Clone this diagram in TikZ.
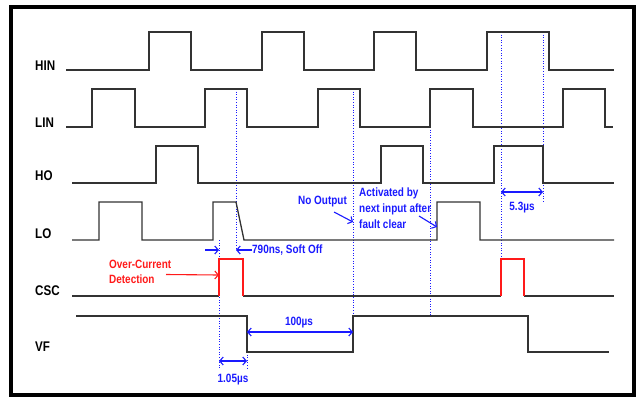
\documentclass[tikz,border=0pt]{standalone}
\usepackage{fontspec}
\setmainfont{Liberation Sans}
\usetikzlibrary{arrows.meta}
\definecolor{sig}{HTML}{333333}
\definecolor{ablue}{HTML}{1A1AFF}
\definecolor{ared}{HTML}{FF1A1A}
\newcommand{\nar}[1]{\scalebox{0.83}[1]{#1}}
\tikzset{
  wave/.style={draw=sig, line width=1.3pt, line join=miter},
  redwave/.style={draw=ared, line width=1.3pt},
  guide/.style={draw=ablue, line width=0.6pt, dotted},
  dim/.style={draw=ablue, line width=1.1pt, {Straight Barb[length=3.5pt,width=8pt]}-{Straight Barb[length=3.5pt,width=8pt]}},
  ptr/.style={draw=ablue, line width=1.1pt, -{Straight Barb[length=3.5pt,width=8pt]}},
  rptr/.style={draw=ared, line width=1.1pt, -{Straight Barb[length=3.5pt,width=8pt]}},
  siglabel/.style={anchor=west, inner sep=0pt, font=\bfseries\fontsize{14}{14}\selectfont},
  note/.style={inner sep=0pt, text=ablue, font=\bfseries\fontsize{12}{16}\selectfont, align=left},
  rnote/.style={inner sep=0pt, text=ared, font=\bfseries\fontsize{12}{15}\selectfont, align=left},
}
\begin{document}
\begin{tikzpicture}[x=1pt,y=-1pt]
\useasboundingbox (0,0) rectangle (636,397);
\fill[white] (0,0) rectangle (636,397);
\draw[line width=4.5pt] (11,7) rectangle (634,395);

% labels
\node[siglabel] (lHIN) at (35,66) {\nar{HIN}};
\node[siglabel] (lLIN) at (35,123) {\nar{LIN}};
\node[siglabel] (lHO) at (35,176) {\nar{HO}};
\node[siglabel] (lLO) at (35,234) {\nar{LO}};
\node[siglabel] (lCSC) at (35,291) {\nar{CSC}};
\node[siglabel] (lVF) at (35,347) {\nar{VF}};

% guides (drawn first)
\coordinate (g1t) at (236,89);  \coordinate (g1b) at (236,248);
\coordinate (g2t) at (219,240); \coordinate (g2b) at (219,368);
\coordinate (g3t) at (247,352); \coordinate (g3b) at (247,368);
\coordinate (g4t) at (353,89);  \coordinate (g4b) at (353,316);
\coordinate (g5t) at (430,127); \coordinate (g5b) at (430,316);
\coordinate (g6t) at (501,32);  \coordinate (g6b) at (501,259);
\coordinate (g7t) at (543,32);  \coordinate (g7b) at (543,203);
\foreach \i in {1,...,7} \draw[guide] (g\i t) -- (g\i b);

% HIN
\draw[wave] (66,70) -- (149,70) -- (149,32) -- (191,32) -- (191,70) -- (262,70) -- (262,32) -- (304,32) -- (304,70)
  -- (374,70) -- (374,32) -- (416,32) -- (416,70) -- (487,70) -- (487,32) -- (549,32) -- (549,70) -- (614,70);
% LIN
\draw[wave] (66,127) -- (92,127) -- (92,89) -- (135,89) -- (135,127) -- (205,127) -- (205,89) -- (247,89) -- (247,127)
  -- (318,127) -- (318,89) -- (360,89) -- (360,127) -- (430,127) -- (430,89) -- (473,89) -- (473,127)
  -- (563,127) -- (563,89) -- (605,89) -- (605,127) -- (613,127);
% HO
\draw[wave] (72,183) -- (156,183) -- (156,146) -- (198,146) -- (198,183) -- (381,183) -- (381,146) -- (423,146) -- (423,183)
  -- (494,183) -- (494,146) -- (543,146) -- (543,183) -- (614,183);
% LO
\draw[wave] (72,240) -- (99,240) -- (99,202) -- (142,202) -- (142,240) -- (213,240) -- (213,202) -- (236,202) -- (244,240)
  -- (437,240) -- (437,202) -- (480,202) -- (480,240) -- (614,240);
% CSC
\draw[wave] (72,296) -- (219,296);
\draw[wave] (243,296) -- (501,296);
\draw[wave] (524,296) -- (614,296);
\draw[redwave] (219,296) -- (219,259) -- (243,259) -- (243,296);
\draw[redwave] (501,296) -- (501,259) -- (524,259) -- (524,296);
% VF
\draw[wave] (76,316) -- (247,316) -- (247,352) -- (353,352) -- (353,316) -- (528,316) -- (528,352) -- (609,352);

% annotations
\coordinate (a53l) at (501,192); \coordinate (a53r) at (543,192);
\draw[dim] (a53l) -- (a53r);
\node[note] (t53) at (522,208) {\nar{5.3\textmu s}};

\coordinate (a790s) at (205,250); \coordinate (a790t) at (219,250);
\draw[ptr] (a790s) -- (a790t);
\node[note, anchor=west] (t790) at (252,250) {\nar{790ns, Soft Off}};
\coordinate (a790u) at (236,250);
\draw[ptr] (t790.west) -- (a790u);

\node[rnote, anchor=west] (toc) at (109,272) {\nar{Over-Current}\\\nar{Detection}};
\coordinate (aoc) at (219,275);
\draw[rptr] (166,274.5) -- (aoc);

\coordinate (a100l) at (247,332); \coordinate (a100r) at (353,332);
\draw[dim] (a100l) -- (a100r);
\node[note] (t100) at (299,323) {\nar{100\textmu s}};

\coordinate (a105l) at (219,361); \coordinate (a105r) at (247,361);
\draw[dim] (a105l) -- (a105r);
\node[note] (t105) at (233,380) {\nar{1.05\textmu s}};

\node[note, anchor=west] (tno) at (298,202) {\nar{No Output}};
\coordinate (ano) at (353,222);
\draw[ptr] (334,212) -- (ano);

\node[note, anchor=west] (tact) at (359,208) {\nar{Activated by}\\\nar{next input after}\\\nar{fault clear}};
\coordinate (aact) at (437,227);
\draw[ptr] (419,216) -- (aact);
\end{tikzpicture}
\end{document}
